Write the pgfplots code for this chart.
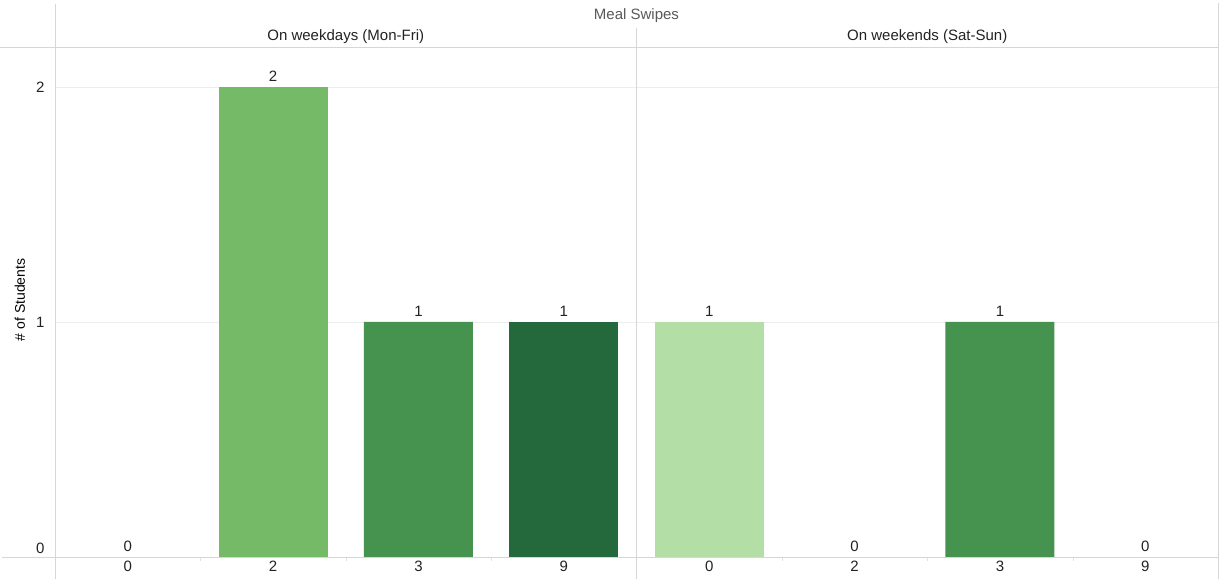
\documentclass[border=0pt]{standalone}
\usepackage{fontspec}
\setmainfont{Liberation Sans}
\usepackage{pgfplots}
\pgfplotsset{compat=1.18}
\definecolor{gA}{HTML}{B3DFA6}
\definecolor{gB}{HTML}{74BA67}
\definecolor{gC}{HTML}{45934F}
\definecolor{gD}{HTML}{23693C}
\definecolor{frame}{HTML}{D6D6D6}
\definecolor{gridc}{HTML}{EDEDED}
\definecolor{txt}{HTML}{222222}
\begin{document}
\begin{tikzpicture}
\useasboundingbox (-55pt,-22pt) rectangle (1170pt,557pt);
\begin{axis}[
  scale only axis,
  width=1163pt, height=510pt,
  xmin=-0.5, xmax=7.5, ymin=0, ymax=2.170,
  axis line style={draw=none},
  clip=false,
  xtick={0,1,2,3,4,5,6,7},
  xticklabels={0,2,3,9,0,2,3,9},
  minor xtick={0.5,1.5,2.5,4.5,5.5,6.5},
  ytick={1,2},
  extra y ticks={0},
  extra y tick style={yticklabel style={yshift=9pt}},
  major tick length=0pt,
  minor tick length=4pt,
  tick align=outside,
  xtick pos=bottom, ytick pos=left,
  minor tick style={draw=frame!70},
  ymajorgrids, grid style={draw=gridc},
  /pgf/number format/assume math mode=true,
  tick label style={font=\fontsize{15pt}{17pt}\selectfont, text=txt},
  xticklabel style={yshift=0pt},
  yticklabel style={xshift=-7pt},
  ylabel={\# of Students},
  ylabel style={font=\fontsize{14pt}{16pt}\selectfont, text=black, at={(axis description cs:-0.0301,0.504)}, anchor=center},
  every node near coord/.append style={font=\fontsize{15pt}{17pt}\selectfont, text=txt, anchor=south, yshift=2pt},
]
\addplot[ybar, bar shift=0pt, bar width=0.75, fill=gB, draw=none] coordinates {(1,2)};
\addplot[ybar, bar shift=0pt, bar width=0.75, fill=gC, draw=none] coordinates {(2,1) (6,1)};
\addplot[ybar, bar shift=0pt, bar width=0.75, fill=gD, draw=none] coordinates {(3,1)};
\addplot[ybar, bar shift=0pt, bar width=0.75, fill=gA, draw=none] coordinates {(4,1)};
\addplot[draw=none, mark=none, nodes near coords] coordinates {(0,0) (1,2) (2,1) (3,1) (4,1) (5,0) (6,1) (7,0)};
\end{axis}
% frame lines
\draw[frame, line width=0.8pt] (0pt,-22pt) -- (0pt,553pt);
\draw[frame, line width=0.8pt] (1163pt,-22pt) -- (1163pt,554pt);
\draw[frame, line width=0.8pt] (581.5pt,-22pt) -- (581.5pt,529pt);
\draw[frame, line width=0.8pt] (-55pt,510pt) -- (1163pt,510pt);
\draw[frame, line width=0.8pt] (-53pt,0pt) -- (1163pt,0pt);
% titles
\node[font=\fontsize{15pt}{17pt}\selectfont, text=black!65] at (581.5pt,541pt) {Meal Swipes};
\node[font=\fontsize{15pt}{17pt}\selectfont, text=txt] at (290.75pt,520pt) {On weekdays (Mon-Fri)};
\node[font=\fontsize{15pt}{17pt}\selectfont, text=txt] at (872.25pt,520pt) {On weekends (Sat-Sun)};
\end{tikzpicture}
\end{document}
